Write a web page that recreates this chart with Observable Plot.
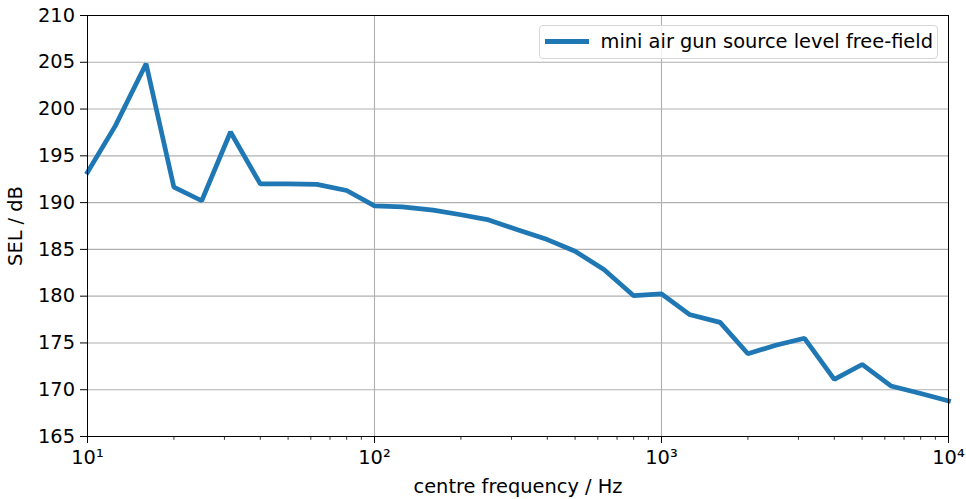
<!DOCTYPE html>
<html>
<head>
<meta charset="utf-8">
<script src="https://cdn.jsdelivr.net/npm/d3@7"></script>
<script src="https://cdn.jsdelivr.net/npm/@observablehq/plot@0.6"></script>
<style>
  html, body { margin: 0; padding: 0; background: #fff; }
  #wrap { position: relative; width: 966px; height: 499px; font-family: "DejaVu Sans", sans-serif; }
  #legend {
    position: absolute; left: 539px; top: 25px; width: 399px; height: 34px;
    border: 1px solid #d6d6d6; border-radius: 4px; background: rgba(255,255,255,0.8);
    box-sizing: border-box; font-size: 19.4px; line-height: 19.4px; color: #000;
  }
  #legend .sw { position: absolute; left: 5px; top: 13.3px; width: 44px; height: 4.6px; background: #1f77b4; }
  #legend .lt { position: absolute; left: 60.5px; top: 5.6px; white-space: nowrap; }
</style>
</head>
<body>
<div id="wrap"></div>
<script>
const freqs = [10,12.5,16,20,25,31.5,40,50,63,80,100,125,160,200,250,315,400,500,630,800,1000,1250,1600,2000,2500,3150,4000,5000,6300,8000,10000];
const sel = [193.25,198.2,204.85,191.65,190.2,197.55,192.0,192.0,191.95,191.3,189.65,189.55,189.2,188.7,188.15,187.1,186.05,184.8,182.85,180.05,180.25,178.05,177.2,173.85,174.75,175.5,171.1,172.7,170.4,169.6,168.8];
const seriesName = "mini air gun source level free-field";
const xMajor = [10,100,1000,10000];
const xMajorLabels = ["10\u00b9","10\u00b2","10\u00b3","10\u2074"];
const xMinor = [20,30,40,50,60,70,80,90,200,300,400,500,600,700,800,900,2000,3000,4000,5000,6000,7000,8000,9000];
const yTicks = [165,170,175,180,185,190,195,200,205,210];

const data = freqs.map((f, i) => ({f, v: sel[i]}));

const chart = Plot.plot({
  width: 966,
  height: 499,
  marginLeft: 87,
  marginRight: 18,
  marginTop: 15,
  marginBottom: 63,
  style: {fontFamily: "DejaVu Sans, sans-serif", fontSize: "19.4px", color: "#000", background: "#fff"},
  x: {type: "log", domain: [10, 10000]},
  y: {domain: [165, 210]},
  marks: [
    Plot.gridX(xMajor.slice(1, -1), {stroke: "#b0b0b0", strokeOpacity: 1, strokeWidth: 1.1}),
    Plot.gridY(yTicks.slice(1, -1), {stroke: "#b0b0b0", strokeOpacity: 1, strokeWidth: 1.1}),
    Plot.axisX(xMinor, {tickSize: 3.8, tickFormat: () => "", label: null, strokeWidth: 0.8}),
    Plot.axisX(xMajor, {
      tickSize: 7, tickPadding: 7,
      tickFormat: (d) => xMajorLabels[xMajor.indexOf(d)],
      label: "centre frequency / Hz", labelAnchor: "center", labelArrow: "none", labelOffset: 56,
      fontSize: 19.4
    }),
    Plot.axisY(yTicks, {
      tickSize: 7, tickPadding: 5.5,
      label: "SEL / dB", labelAnchor: "center", labelArrow: "none", labelOffset: 79,
      fontSize: 19.4
    }),
    Plot.line(data, {x: "f", y: "v", stroke: "#1f77b4", strokeWidth: 4.7, strokeLinejoin: "miter", strokeLinecap: "square"}),
    Plot.frame({stroke: "#000", strokeWidth: 1})
  ]
});

const wrap = document.getElementById("wrap");
wrap.appendChild(chart);
const leg = document.createElement("div");
leg.id = "legend";
leg.innerHTML = `<div class="sw"></div><div class="lt"></div>`;
leg.querySelector(".lt").textContent = seriesName;
wrap.appendChild(leg);
</script>
</body>
</html>
